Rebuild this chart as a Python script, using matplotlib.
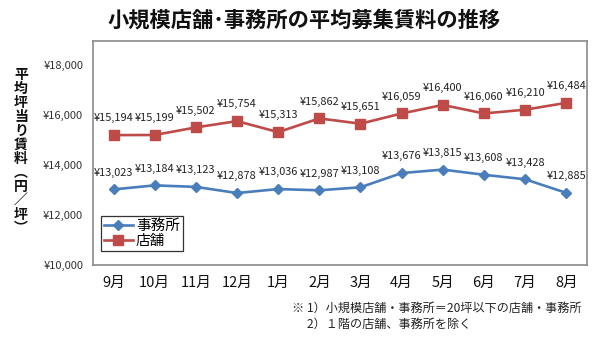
import matplotlib
matplotlib.use('Agg')
import matplotlib.pyplot as plt

plt.rcParams['font.family'] = ['Noto Sans CJK JP', 'DejaVu Sans']

# data
months = ['9月', '10月', '11月', '12月', '1月', '2月', '3月', '4月', '5月', '6月', '7月', '8月']
office = [13023, 13184, 13123, 12878, 13036, 12987, 13108, 13676, 13815, 13608, 13428, 12885]
store = [15194, 15199, 15502, 15754, 15313, 15862, 15651, 16059, 16400, 16060, 16210, 16484]
yticks = [10000, 12000, 14000, 16000, 18000]

blue = '#4A7EBB'
red = '#BE4B48'

fig = plt.figure(figsize=(6, 3.4), dpi=100)
ax = fig.add_axes([0.155, 0.2206, 0.823, 0.659])

x = range(len(months))
ax.plot(x, office, '-D', color=blue, lw=1.9, ms=5, label='事務所')
ax.plot(x, store, '-s', color=red, lw=1.9, ms=6.5, label='店舗')

# value labels above each point
for i, v in enumerate(office):
    ax.annotate(f'¥{v:,}', (i, v), xytext=(0, 12), textcoords='offset points',
                ha='center', va='center', fontsize=7.9, color='#222222')
for i, v in enumerate(store):
    ax.annotate(f'¥{v:,}', (i, v), xytext=(0, 12), textcoords='offset points',
                ha='center', va='center', fontsize=7.9, color='#222222')

ax.set_xlim(-0.5, len(months) - 0.5)
ax.set_ylim(10000, 18960)
ax.set_xticks(list(x))
ax.set_xticklabels(months, fontsize=10.5, color='#111111')
ax.set_yticks(yticks)
ax.set_yticklabels([f'¥{v:,}' for v in yticks], fontsize=8, color='#333333')
ax.tick_params(axis='both', length=0)
ax.tick_params(axis='y', pad=7)
ax.tick_params(axis='x', pad=8)

for s in ax.spines.values():
    s.set_color('#8A8A8A')
    s.set_linewidth(1.2)

leg = ax.legend(loc='lower left', bbox_to_anchor=(0.016, 0.0625), borderaxespad=0,
                fontsize=10.5, frameon=True, fancybox=False, handlelength=2.0,
                handletextpad=0.2, borderpad=0.2, labelspacing=0.1)
leg.get_frame().set_edgecolor('black')
leg.get_frame().set_linewidth(0.9)

fig.text(0.507, 0.941, '小規模店舗･事務所の平均募集賃料の推移', ha='center', va='center',
         fontsize=15.3, fontweight='bold', color='#111111')

ylabel = ['平', '均', '坪', '当', 'り', '賃', '料', '︵', '円', '／', '坪', '︶']
fig.text(0.035, 0.554, '\n'.join(ylabel), ha='center', va='center',
         fontsize=10, fontweight='bold', linespacing=1.0, color='#111111')

fig.text(0.487, 0.092, '※ 1）小規模店舗・事務所＝20坪以下の店舗・事務所', ha='left', va='center',
         fontsize=8.7, color='#222222')
fig.text(0.487, 0.047, '　 2）１階の店舗、事務所を除く', ha='left', va='center',
         fontsize=8.7, color='#222222')

fig.savefig('out.png', dpi=100)
